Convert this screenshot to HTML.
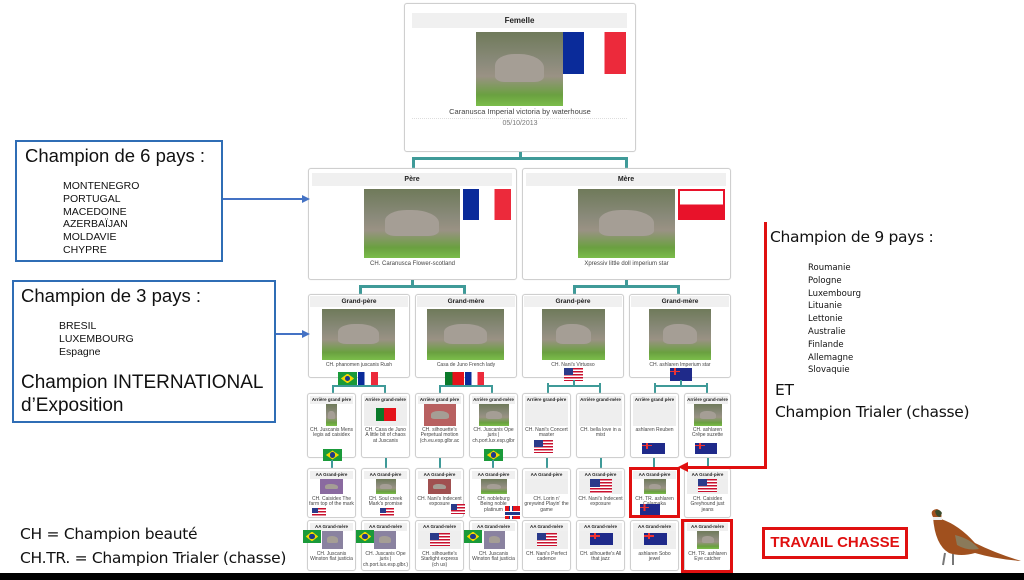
<!DOCTYPE html>
<html><head><meta charset="utf-8"><style>
*{margin:0;padding:0;box-sizing:border-box}
body{width:1024px;height:580px;background:#fff;position:relative;overflow:hidden;font-family:"Liberation Sans",sans-serif}
.a{position:absolute}
.bx{position:absolute;border:1px solid #cfcfcf;border-radius:3px;background:#fff;box-shadow:0 0 1px #ddd}
.hd{position:absolute;background:#f0f0f0;font-weight:bold;text-align:center;color:#222}
.ph{position:absolute;background:linear-gradient(180deg,#6f7a5a 0%,#8a8a7a 40%,#9a9284 60%,#6aa040 85%,#7bbd4a 100%)}
.ph:after{content:"";position:absolute;left:22%;top:30%;width:56%;height:38%;background:#a59e95;border-radius:40% 50% 20% 20%}
.cap{position:absolute;text-align:center;color:#444;line-height:1.05}
.fr{background:linear-gradient(90deg,#0a2b9a 0 33%,#fff 33% 66%,#ec2a3b 66%)}
.pl{background:linear-gradient(180deg,#fff 0 50%,#e8122a 50%);border:2px solid #e8122a}
.us{background:repeating-linear-gradient(180deg,#c8102e 0 1.5px,#fff 1.5px 3px);position:absolute}
.us:before{content:"";position:absolute;left:0;top:0;width:45%;height:55%;background:#2a3a8a}
.au{background:#1f2a8a;position:absolute}
.au:before{content:"";position:absolute;left:0;top:0;width:45%;height:50%;background:linear-gradient(90deg,#1f2a8a 40%,#e33 40% 60%,#1f2a8a 60%),#1f2a8a}
.au:after{content:"";position:absolute;left:0;top:20%;width:45%;height:10%;background:#e33}
.br{background:#1a9a3a;position:absolute}
.br:before{content:"";position:absolute;left:15%;top:12%;width:70%;height:76%;background:#f5d800;clip-path:polygon(50% 0,100% 50%,50% 100%,0 50%)}
.br:after{content:"";position:absolute;left:36%;top:28%;width:28%;height:44%;border-radius:50%;background:#1e3a8a}
.pt{background:linear-gradient(90deg,#0a7a2a 0 40%,#e4131b 40%);position:absolute}
.no{background:#e4131b;position:absolute}
.no:before{content:"";position:absolute;left:28%;top:0;width:14%;height:100%;background:#fff;border-left:1.5px solid #1e3a8a;border-right:1.5px solid #1e3a8a}
.no:after{content:"";position:absolute;left:0;top:40%;width:100%;height:20%;background:#1e3a8a;border-top:1px solid #fff;border-bottom:1px solid #fff}
.ln{position:absolute;background:#3f9a98}
.s .hd{left:2px;right:2px;top:2px;height:8px;font-size:4.5px;line-height:8px}
.s .cap{left:1px;right:1px;font-size:5px}
.blk{position:absolute;background:#eee}
</style></head><body>

<!-- Femelle -->
<div class="bx" style="left:404px;top:3px;width:232px;height:149px"></div>
<div class="hd" style="left:412px;top:13px;width:215px;height:15px;font-size:8px;line-height:15px">Femelle</div>
<div class="ph" style="left:476px;top:32px;width:87px;height:74px"></div>
<div class="a fr" style="left:563px;top:32px;width:63px;height:42px"></div>
<div class="cap" style="left:404px;top:108px;width:232px;font-size:7.5px">Caranusca Imperial victoria by waterhouse</div>
<div class="a" style="left:412px;top:118px;width:215px;border-top:1px dotted #ddd"></div>
<div class="cap" style="left:404px;top:120px;width:232px;font-size:7px;color:#777">05/10/2013</div>

<div class="ln" style="left:519px;top:152px;width:3px;height:7px"></div>
<div class="ln" style="left:412px;top:157px;width:216px;height:3px"></div>
<div class="ln" style="left:412px;top:157px;width:3px;height:12px"></div>
<div class="ln" style="left:625px;top:157px;width:3px;height:12px"></div>

<!-- Pere / Mere -->
<div class="bx" style="left:308px;top:168px;width:209px;height:112px"></div>
<div class="hd" style="left:312px;top:173px;width:200px;height:13px;font-size:7px;line-height:13px">Père</div>
<div class="ph" style="left:364px;top:189px;width:96px;height:69px"></div>
<div class="a fr" style="left:463px;top:189px;width:48px;height:31px"></div>
<div class="cap" style="left:308px;top:261px;width:209px;font-size:6px">CH. Caranusca Flower-scotland</div>

<div class="bx" style="left:522px;top:168px;width:209px;height:112px"></div>
<div class="hd" style="left:526px;top:173px;width:200px;height:13px;font-size:7px;line-height:13px">Mère</div>
<div class="ph" style="left:578px;top:189px;width:97px;height:69px"></div>
<div class="a pl" style="left:678px;top:189px;width:47px;height:31px"></div>
<div class="cap" style="left:522px;top:261px;width:209px;font-size:6px">Xpressiv little doll imperium star</div>

<div class="ln" style="left:411px;top:280px;width:3px;height:7px"></div>
<div class="ln" style="left:359px;top:285px;width:107px;height:3px"></div>
<div class="ln" style="left:359px;top:285px;width:3px;height:10px"></div>
<div class="ln" style="left:463px;top:285px;width:3px;height:10px"></div>
<div class="ln" style="left:625px;top:280px;width:3px;height:7px"></div>
<div class="ln" style="left:573px;top:285px;width:107px;height:3px"></div>
<div class="ln" style="left:573px;top:285px;width:3px;height:10px"></div>
<div class="ln" style="left:677px;top:285px;width:3px;height:10px"></div>

<!-- Grand parents -->
<div class="bx" style="left:308px;top:294px;width:102px;height:84px"></div>
<div class="bx" style="left:415px;top:294px;width:102px;height:84px"></div>
<div class="bx" style="left:522px;top:294px;width:102px;height:84px"></div>
<div class="bx" style="left:629px;top:294px;width:102px;height:84px"></div>
<div class="hd" style="left:310px;top:296px;width:98px;height:11px;font-size:6.5px;line-height:11px">Grand-père</div>
<div class="hd" style="left:417px;top:296px;width:98px;height:11px;font-size:6.5px;line-height:11px">Grand-mère</div>
<div class="hd" style="left:524px;top:296px;width:98px;height:11px;font-size:6.5px;line-height:11px">Grand-père</div>
<div class="hd" style="left:631px;top:296px;width:98px;height:11px;font-size:6.5px;line-height:11px">Grand-mère</div>
<div class="ph" style="left:322px;top:309px;width:73px;height:51px"></div>
<div class="ph" style="left:427px;top:309px;width:77px;height:51px"></div>
<div class="ph" style="left:542px;top:309px;width:63px;height:51px"></div>
<div class="ph" style="left:649px;top:309px;width:62px;height:51px"></div>
<div class="cap" style="left:308px;top:363px;width:102px;font-size:5px">CH. phanomen juscanis Rush</div>
<div class="cap" style="left:415px;top:363px;width:102px;font-size:5px">Casa de Juno French lady</div>
<div class="cap" style="left:522px;top:363px;width:102px;font-size:5px">CH. Nani's Virtuoso</div>
<div class="cap" style="left:629px;top:363px;width:102px;font-size:5px">CH. ashlaren Imperium star</div>
<div class="br" style="left:338px;top:372px;width:19px;height:13px"></div>
<div class="a fr" style="left:358px;top:372px;width:20px;height:13px"></div>
<div class="pt" style="left:445px;top:372px;width:19px;height:13px"></div>
<div class="a fr" style="left:465px;top:372px;width:19px;height:13px"></div>
<div class="us" style="left:564px;top:368px;width:19px;height:13px"></div>
<div class="au" style="left:670px;top:368px;width:22px;height:13px"></div>

<div class="ln" style="left:332px;top:385px;width:52px;height:2px"></div>
<div class="ln" style="left:332px;top:385px;width:2px;height:9px"></div>
<div class="ln" style="left:384px;top:385px;width:2px;height:9px"></div>
<div class="ln" style="left:439px;top:385px;width:52px;height:2px"></div>
<div class="ln" style="left:439px;top:385px;width:2px;height:9px"></div>
<div class="ln" style="left:491px;top:385px;width:2px;height:9px"></div>
<div class="ln" style="left:547px;top:385px;width:52px;height:2px"></div>
<div class="ln" style="left:547px;top:383px;width:2px;height:11px"></div>
<div class="ln" style="left:599px;top:383px;width:2px;height:11px"></div>
<div class="ln" style="left:654px;top:385px;width:52px;height:2px"></div>
<div class="ln" style="left:654px;top:383px;width:2px;height:11px"></div>
<div class="ln" style="left:706px;top:383px;width:2px;height:11px"></div>
<div class="ln" style="left:680px;top:380px;width:2px;height:6px"></div>
<div class="ln" style="left:573px;top:380px;width:2px;height:6px"></div>

<!-- Arriere grand parents row -->
<div class="bx s" style="left:307px;top:393px;width:49px;height:65px"><div class="hd">Arrière grand père</div><div class="ph" style="left:18px;top:10px;width:11px;height:22px"></div><div class="cap" style="top:34px">CH. Juscanis Mens legis ad caisidex</div></div>
<div class="bx s" style="left:361px;top:393px;width:49px;height:65px"><div class="hd">Arrière grand-mère</div><div class="blk" style="left:2px;top:10px;right:2px;height:22px"></div><div class="pt" style="left:14px;top:14px;width:20px;height:13px"></div><div class="cap" style="top:34px">CH. Casa de Juno A little bit of chaos at Juscanis</div></div>
<div class="bx s" style="left:415px;top:393px;width:49px;height:65px"><div class="hd">Arrière grand père</div><div class="ph" style="left:8px;top:10px;width:32px;height:22px;background:#b86060"></div><div class="cap" style="top:34px">CH. silhouette's Perpetual motion (ch.eu.esp.glbr.ac</div></div>
<div class="bx s" style="left:469px;top:393px;width:49px;height:65px"><div class="hd">Arrière grand-mère</div><div class="ph" style="left:9px;top:10px;width:30px;height:22px"></div><div class="cap" style="top:34px">CH. Juscanis Ope juris | ch.port.lux.esp.glbr</div></div>
<div class="bx s" style="left:522px;top:393px;width:49px;height:65px"><div class="hd">Arrière grand-père</div><div class="blk" style="left:2px;top:10px;right:2px;height:22px"></div><div class="cap" style="top:34px">CH. Nani's Concert master</div><div class="us" style="left:11px;top:46px;width:19px;height:13px"></div></div>
<div class="bx s" style="left:576px;top:393px;width:49px;height:65px"><div class="hd">Arrière grand-mère</div><div class="blk" style="left:2px;top:10px;right:2px;height:22px"></div><div class="cap" style="top:34px">CH. bella love in a mist</div></div>
<div class="bx s" style="left:630px;top:393px;width:49px;height:65px"><div class="hd">Arrière grand père</div><div class="blk" style="left:2px;top:10px;right:2px;height:22px"></div><div class="cap" style="top:34px">ashlaren Reuben</div><div class="au" style="left:11px;top:49px;width:23px;height:11px"></div></div>
<div class="bx s" style="left:684px;top:393px;width:47px;height:65px"><div class="hd">Arrière grand-mère</div><div class="ph" style="left:9px;top:10px;width:28px;height:22px"></div><div class="cap" style="top:34px">CH. ashlaren Crêpe suzette</div><div class="au" style="left:10px;top:49px;width:22px;height:11px"></div></div>
<div class="br" style="left:323px;top:449px;width:19px;height:12px"></div>
<div class="br" style="left:484px;top:449px;width:19px;height:12px"></div>

<div class="ln" style="left:331px;top:460px;width:2px;height:8px"></div>
<div class="ln" style="left:385px;top:458px;width:2px;height:10px"></div>
<div class="ln" style="left:439px;top:458px;width:2px;height:10px"></div>
<div class="ln" style="left:492px;top:460px;width:2px;height:8px"></div>
<div class="ln" style="left:546px;top:458px;width:2px;height:10px"></div>
<div class="ln" style="left:600px;top:458px;width:2px;height:10px"></div>
<div class="ln" style="left:653px;top:458px;width:2px;height:10px"></div>
<div class="ln" style="left:707px;top:458px;width:2px;height:10px"></div>

<!-- AA grand-pere row -->
<div class="bx s" style="left:307px;top:468px;width:49px;height:50px"><div class="hd">AA Grand-père</div><div class="ph" style="left:12px;top:10px;width:23px;height:15px;background:#8a6aa0"></div><div class="cap" style="top:28px">CH. Caisidex The farm top of the mark</div><div class="us" style="left:4px;top:39px;width:14px;height:9px"></div></div>
<div class="bx s" style="left:361px;top:468px;width:49px;height:50px"><div class="hd">AA Grand-père</div><div class="ph" style="left:14px;top:10px;width:20px;height:15px"></div><div class="cap" style="top:28px">CH. Soul creek Mark's promise</div><div class="us" style="left:18px;top:39px;width:14px;height:9px"></div></div>
<div class="bx s" style="left:415px;top:468px;width:49px;height:50px"><div class="hd">AA Grand-père</div><div class="ph" style="left:12px;top:10px;width:23px;height:15px;background:#a05050"></div><div class="cap" style="top:28px">CH. Nani's Indecent exposure</div><div class="us" style="left:35px;top:35px;width:14px;height:10px"></div></div>
<div class="bx s" style="left:469px;top:468px;width:49px;height:50px"><div class="hd">AA Grand-père</div><div class="ph" style="left:11px;top:10px;width:26px;height:15px"></div><div class="cap" style="top:28px">CH. nobleburg Being noble platinum</div></div>
<div class="no" style="left:505px;top:506px;width:15px;height:13px"></div>
<div class="bx s" style="left:522px;top:468px;width:49px;height:50px"><div class="hd">AA Grand-père</div><div class="blk" style="left:2px;top:10px;right:2px;height:15px"></div><div class="cap" style="top:28px">CH. Lorin n' greywind Playin' the game</div></div>
<div class="bx s" style="left:576px;top:468px;width:49px;height:50px"><div class="hd">AA Grand-père</div><div class="blk" style="left:2px;top:10px;right:2px;height:15px"></div><div class="us" style="left:13px;top:10px;width:22px;height:15px"></div><div class="cap" style="top:28px">CH. Nani's Indecent exposure</div></div>
<div class="bx s" style="left:630px;top:468px;width:49px;height:50px"><div class="hd">AA Grand-père</div><div class="ph" style="left:13px;top:10px;width:22px;height:15px"></div><div class="cap" style="top:28px">CH. TR. ashlaren Calamaka</div></div>
<div class="bx s" style="left:684px;top:468px;width:47px;height:50px"><div class="hd">AA Grand-père</div><div class="blk" style="left:2px;top:10px;right:2px;height:15px"></div><div class="us" style="left:13px;top:10px;width:19px;height:13px"></div><div class="cap" style="top:28px">CH. Caisidex Greyhound just jeans</div></div>

<!-- AA grand-mere row -->
<div class="bx s" style="left:307px;top:520px;width:49px;height:51px"><div class="hd">AA Grand-mère</div><div class="ph" style="left:14px;top:10px;width:21px;height:18px;background:#8a82a0"></div><div class="cap" style="top:31px">CH. Juscanis Winston flat justicia</div></div>
<div class="bx s" style="left:361px;top:520px;width:49px;height:51px"><div class="hd">AA Grand-mère</div><div class="ph" style="left:12px;top:10px;width:22px;height:18px;background:#8a82a0"></div><div class="cap" style="top:31px">CH. Juscanis Ope juris | ch.port.lux.esp.glbr.)</div></div>
<div class="bx s" style="left:415px;top:520px;width:49px;height:51px"><div class="hd">AA Grand-mère</div><div class="blk" style="left:2px;top:10px;right:2px;height:18px"></div><div class="us" style="left:14px;top:12px;width:20px;height:13px"></div><div class="cap" style="top:31px">CH. silhouette's Starlight express (ch us)</div></div>
<div class="bx s" style="left:469px;top:520px;width:49px;height:51px"><div class="hd">AA Grand-mère</div><div class="ph" style="left:14px;top:10px;width:21px;height:18px;background:#8a82a0"></div><div class="cap" style="top:31px">CH. Juscanis Winston flat justicia</div></div>
<div class="bx s" style="left:522px;top:520px;width:49px;height:51px"><div class="hd">AA Grand-mère</div><div class="blk" style="left:2px;top:10px;right:2px;height:18px"></div><div class="us" style="left:14px;top:12px;width:20px;height:13px"></div><div class="cap" style="top:31px">CH. Nani's Perfect cadence</div></div>
<div class="bx s" style="left:576px;top:520px;width:49px;height:51px"><div class="hd">AA Grand-mère</div><div class="blk" style="left:2px;top:10px;right:2px;height:18px"></div><div class="au" style="left:13px;top:12px;width:23px;height:12px"></div><div class="cap" style="top:31px">CH. silhouette's All that jazz</div></div>
<div class="bx s" style="left:630px;top:520px;width:49px;height:51px"><div class="hd">AA Grand-mère</div><div class="blk" style="left:2px;top:10px;right:2px;height:18px"></div><div class="au" style="left:13px;top:12px;width:23px;height:12px"></div><div class="cap" style="top:31px">ashlaren Sobo jewel</div></div>
<div class="bx s" style="left:684px;top:520px;width:47px;height:51px"><div class="hd">AA Grand-mère</div><div class="ph" style="left:12px;top:10px;width:22px;height:18px"></div><div class="cap" style="top:31px">CH. TR. ashlaren Eye catcher</div></div>
<div class="br" style="left:303px;top:530px;width:18px;height:13px"></div>
<div class="br" style="left:356px;top:530px;width:18px;height:13px"></div>
<div class="br" style="left:464px;top:530px;width:18px;height:13px"></div>
<div class="au" style="left:640px;top:504px;width:20px;height:13px"></div>

<!-- red highlights -->
<div class="a" style="left:629px;top:467px;width:51px;height:51px;border:3px solid #e01010"></div>
<div class="a" style="left:681px;top:519px;width:52px;height:54px;border:3px solid #e01010"></div>
<div class="a" style="left:764px;top:222px;width:3px;height:247px;background:#e01010"></div>
<div class="a" style="left:686px;top:466px;width:81px;height:3px;background:#e01010"></div>
<div class="a" style="left:678px;top:462px;width:0;height:0;border-top:5.5px solid transparent;border-bottom:5.5px solid transparent;border-right:10px solid #e01010"></div>

<!-- left boxes -->
<div class="a" style="left:15px;top:140px;width:208px;height:122px;border:2px solid #2f6db5"></div>
<div class="a" style="left:25px;top:145px;font-size:18.5px;color:#111">Champion de 6 pays :</div>
<div class="a" style="left:63px;top:180px;font-size:10.5px;line-height:12.8px;color:#111">MONTENEGRO<br>PORTUGAL<br>MACEDOINE<br>AZERBAÏJAN<br>MOLDAVIE<br>CHYPRE</div>
<div class="a" style="left:223px;top:198px;width:80px;height:2px;background:#4472c4"></div>
<div class="a" style="left:302px;top:195px;border-top:4px solid transparent;border-bottom:4px solid transparent;border-left:8px solid #4472c4"></div>

<div class="a" style="left:12px;top:280px;width:264px;height:143px;border:2px solid #2f6db5"></div>
<div class="a" style="left:21px;top:285px;font-size:18.5px;color:#111">Champion de 3 pays :</div>
<div class="a" style="left:59px;top:320px;font-size:10.5px;line-height:12.8px;color:#111">BRESIL<br>LUXEMBOURG<br>Espagne</div>
<div class="a" style="left:21px;top:371px;font-size:19px;line-height:23px;color:#111">Champion INTERNATIONAL<br>d’Exposition</div>
<div class="a" style="left:276px;top:333px;width:27px;height:2px;background:#4472c4"></div>
<div class="a" style="left:302px;top:330px;border-top:4px solid transparent;border-bottom:4px solid transparent;border-left:8px solid #4472c4"></div>

<!-- right text -->
<div class="a" style="left:770px;top:228px;font-size:15.5px;color:#111;font-family:'DejaVu Sans',sans-serif;letter-spacing:-0.3px">Champion de 9 pays :</div>
<div class="a" style="left:808px;top:262px;font-size:8.5px;line-height:12.8px;color:#111;font-family:'DejaVu Sans',sans-serif">Roumanie<br>Pologne<br>Luxembourg<br>Lituanie<br>Lettonie<br>Australie<br>Finlande<br>Allemagne<br>Slovaquie</div>
<div class="a" style="left:775px;top:379px;font-size:15.5px;line-height:22px;color:#111;font-family:'DejaVu Sans',sans-serif;letter-spacing:-0.3px">ET<br>Champion Trialer (chasse)</div>

<div class="a" style="left:20px;top:522px;font-size:15.5px;line-height:24px;color:#111;font-family:'DejaVu Sans',sans-serif;letter-spacing:-0.3px">CH = Champion beauté<br>CH.TR. = Champion Trialer (chasse)</div>

<div class="a" style="left:762px;top:527px;width:146px;height:32px;border:3px solid #e01010;color:#e01010;font-weight:bold;font-size:15px;line-height:26px;text-align:center">TRAVAIL CHASSE</div>

<!-- pheasant -->
<svg class="a" style="left:915px;top:505px" width="110" height="70" viewBox="0 0 110 70">
<path d="M18 12 Q14 5 22 4 Q28 6 26 14 Q44 20 60 38 Q80 48 106 56 Q80 54 60 48 Q46 52 34 48 Q20 40 18 12Z" fill="#a0501e"/>
<path d="M20 6 Q24 3 27 8 L25 12 Q21 12 20 6Z" fill="#3a4a2a"/>
<rect x="18" y="12" width="9" height="3" fill="#eee"/>
<path d="M40 30 Q56 34 64 44 Q52 46 42 40Z" fill="#8a7a5a"/>
<path d="M30 48 L28 60 M38 49 L38 60" stroke="#777" stroke-width="2"/>
</svg>

<div class="a" style="left:0;top:573px;width:1024px;height:7px;background:#000"></div>
</body></html>
